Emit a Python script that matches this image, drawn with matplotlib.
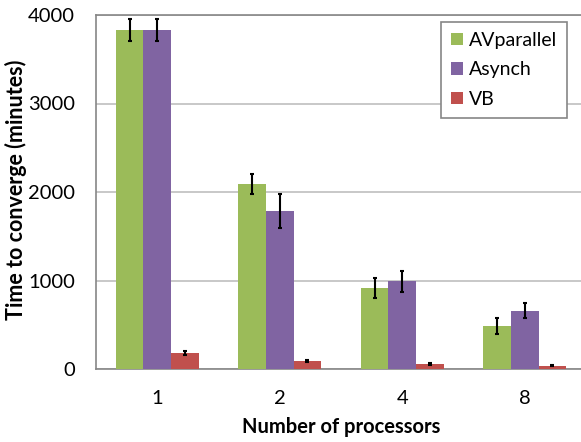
import matplotlib
matplotlib.use('Agg')
import matplotlib.pyplot as plt
import numpy as np

# values
processors = ['1', '2', '4', '8']
av_parallel = [3830, 2090, 912, 486]
av_parallel_err = [125, 115, 115, 90]
asynch = [3830, 1785, 991, 659]
asynch_err = [125, 190, 120, 83]
vb = [184, 94, 56, 38]
vb_err = [22, 10, 7, 5]

plt.rcParams['font.family'] = ['Lato', 'DejaVu Sans']

fig = plt.figure(figsize=(5.81, 4.42), dpi=100)
ax = fig.add_axes([96 / 581, 73 / 442, 490 / 581, 354 / 442])

x = np.arange(len(processors))
w = 0.226
err_style = dict(ecolor='black', elinewidth=1.5, capsize=1.7, capthick=1.5)

ax.bar(x - w, av_parallel, w, yerr=av_parallel_err, color='#9BBB59',
       label='AVparallel', error_kw=err_style, zorder=3)
ax.bar(x, asynch, w, yerr=asynch_err, color='#8064A2',
       label='Asynch', error_kw=err_style, zorder=3)
ax.bar(x + w, vb, w, yerr=vb_err, color='#C0504D',
       label='VB', error_kw=err_style, zorder=3)

ax.set_xlim(-0.5, 3.5)
ax.set_ylim(0, 4000)
ax.set_yticks([0, 1000, 2000, 3000, 4000])
ax.set_xticks(x)
ax.set_xticklabels(processors)
ax.tick_params(length=0, labelsize=14.5, colors='black')
ax.tick_params(axis='y', pad=15)
ax.tick_params(axis='x', pad=15)

ax.grid(axis='y', color='#BFBFBF', linewidth=1.2, zorder=0)
for s in ax.spines.values():
    s.set_color('#868686')
    s.set_linewidth(1.2)

ax.set_xlabel('Number of processors', fontsize=14.5, fontweight='bold', labelpad=7)
# y label placed by hand so it is not clipped at the left edge
fig.text(16 / 581, 252 / 442, 'Time to converge (minutes)', rotation=90,
         ha='center', va='center', fontsize=15.5, fontweight='bold')

leg = ax.legend(loc='upper right', bbox_to_anchor=(567 / 581, 1 - 22 / 442),
                bbox_transform=fig.transFigure, borderaxespad=0, fontsize=14,
                fancybox=False, edgecolor='#868686', framealpha=1,
                handlelength=0.62, handleheight=0.62, handletextpad=0.3,
                labelspacing=0.65, borderpad=0.5)
leg.get_frame().set_linewidth(1.2)

fig.savefig('out.png', dpi=100)
